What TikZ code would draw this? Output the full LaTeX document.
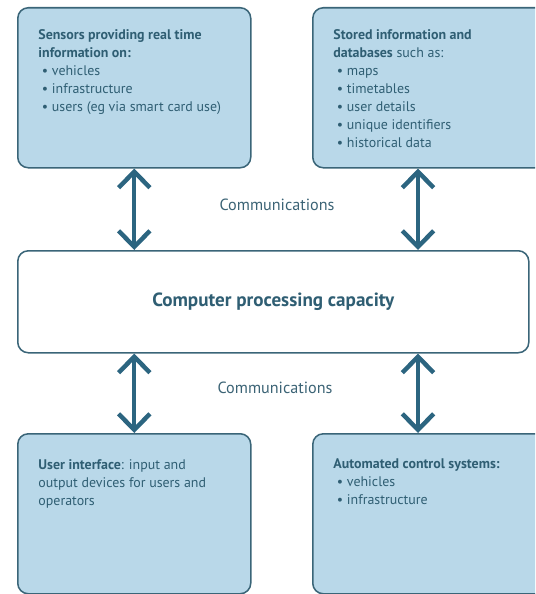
\documentclass[tikz,border=0pt]{standalone}
\usepackage{fontspec}
\setmainfont{PT Sans}
\usetikzlibrary{arrows.meta}

\definecolor{boxfill}{HTML}{B9D8E9}
\definecolor{boxline}{HTML}{3A6578}
\definecolor{arrowblue}{HTML}{2C6580}
\definecolor{textblue}{HTML}{2F5E73}

\tikzset{
	infobox/.style={draw=boxline, fill=boxfill, line width=1.3pt, rounded corners=9pt,
		anchor=north west, inner xsep=0.62cm, inner ysep=0.66cm, text=textblue,
		font=\fontsize{11.9}{15.3}\selectfont},
	link/.style={{Straight Barb[length=4.8mm,width=9.4mm]}-{Straight Barb[length=4.8mm,width=9.4mm]},
		line width=3.8pt, draw=arrowblue},
	commlabel/.style={text=textblue!85!gray, font=\fontsize{13.8}{16}\selectfont}
}

\begin{document}
\begin{tikzpicture}[x=0.03cm, y=-0.03cm] % pixel grid of the reference
		\newcommand{\boxtext}[1]{\begin{minipage}[t][3.48cm][t]{5.75cm}\raggedright #1\end{minipage}}
		\newcommand{\itm}[1]{\\\hspace*{3pt}\textbullet\ #1}
		
		\clip (0,0) rectangle (535,594);		% page
		
		% boxes
		\node[infobox] (sensors) at (17,7) {\boxtext{\textbf{Sensors providing real time\\information on:}%
			\itm{vehicles}\itm{infrastructure}\itm{users (eg via smart card use)}}};
		\node[infobox] (stored) at (312,7) {\boxtext{\textbf{Stored information and\\databases} such as:%
			\itm{maps}\itm{timetables}\itm{user details}\itm{unique identifiers}\itm{historical data}}};
		\node[infobox, inner ysep=0.78cm] (ui) at (17,433) {\begin{minipage}[t][3.24cm][t]{5.75cm}\raggedright
			\textbf{User interface}: input and\\output devices for users and\\operators\end{minipage}};
		\node[infobox, inner ysep=0.74cm] (control) at (312,433) {\begin{minipage}[t][3.32cm][t]{5.75cm}\raggedright
			\textbf{Automated control systems:}\itm{vehicles}\itm{infrastructure}\end{minipage}};
		
		% processing
		\node[draw=boxline, fill=white, line width=1.3pt, rounded corners=9pt, anchor=north west,
			minimum width=15.33cm, minimum height=3.06cm, text=textblue,
			font=\fontsize{16.3}{18}\selectfont\bfseries] (cpu) at (17,250) {Computer processing capacity};
		
		% communications
		\node[commlabel] (commtop) at (277,205) {Communications};
		\node[commlabel] (commbot) at (275,388) {Communications};
		
		% arrows
		\coordinate (rightcol) at (418,0);
		\draw[link] (sensors.south) -- (sensors.south |- cpu.north);
		\draw[link] (stored.south -| rightcol) -- (cpu.north -| rightcol);
		\draw[link] (cpu.south -| sensors.south) -- (ui.north -| sensors.south);
		\draw[link] (cpu.south -| rightcol) -- (control.north -| rightcol);
\end{tikzpicture}
\end{document}
